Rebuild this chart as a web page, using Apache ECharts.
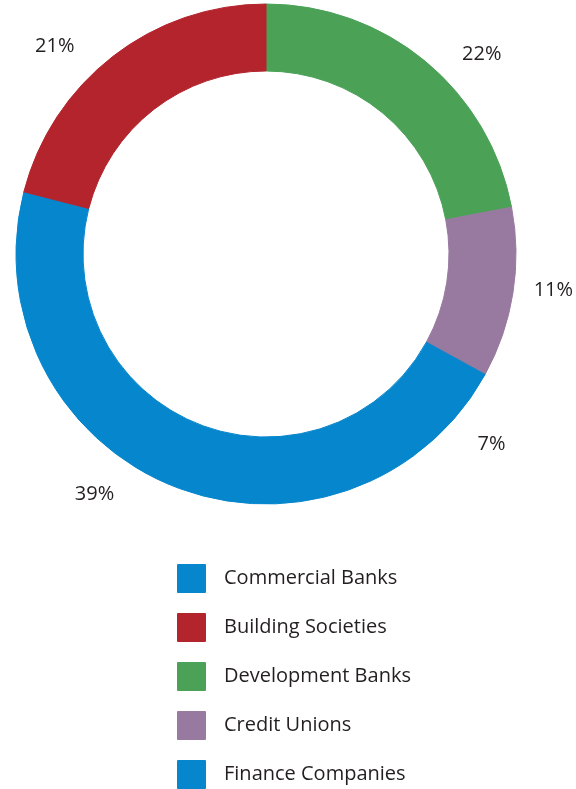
<!DOCTYPE html>
<html>
<head>
<meta charset="utf-8">
<script src="https://cdn.jsdelivr.net/npm/echarts@6/dist/echarts.min.js"></script>
<style>
  html, body { margin: 0; padding: 0; background: #ffffff; }
  #chart { width: 576px; height: 789px; }
</style>
</head>
<body>
<div id="chart"></div>
<script>
// Slices in clockwise order starting at 12 o'clock
var sliceNames = ['Development Banks', 'Credit Unions', 'Finance Companies', 'Commercial Banks', 'Building Societies'];
var sliceValues = [22, 11, 7, 39, 21];
var sliceColors = ['#4ba257', '#987aa0', '#0686cc', '#0686cc', '#b3242d'];

// Legend reading order
var legendOrder = ['Commercial Banks', 'Building Societies', 'Development Banks', 'Credit Unions', 'Finance Companies'];

// Small hand nudges for the percentage labels (pixels), by slice index
var labelNudge = [[7, 8], [-16, -6], [-8, 12], [17, 17], [-9, 6]];

var FONT = '"Open Sans", "Noto Sans", sans-serif';
var TEXT = '#231f20';

var pieData = sliceNames.map(function (n, i) {
  return {
    name: n,
    value: sliceValues[i],
    itemStyle: { color: sliceColors[i], borderColor: sliceColors[i], borderWidth: 1 }
  };
});

var chart = echarts.init(document.getElementById('chart'), null, { renderer: 'canvas' });
chart.setOption({
  backgroundColor: '#ffffff',
  animation: false,
  legend: {
    data: legendOrder,
    orient: 'vertical',
    left: 177,
    top: 564,
    height: 260,
    padding: 0,
    itemWidth: 27,
    itemHeight: 27,
    itemGap: 20,
    icon: 'rect',
    selectedMode: false,
    textStyle: {
      fontFamily: FONT,
      fontSize: 20,
      color: TEXT,
      padding: [0, 0, 0, 14]
    }
  },
  series: [{
    type: 'pie',
    center: [266, 254],
    radius: [183, 250],
    startAngle: 90,
    clockwise: true,
    avoidLabelOverlap: false,
    silent: true,
    data: pieData,
    label: {
      show: true,
      position: 'outside',
      formatter: '{c}%',
      fontFamily: FONT,
      fontSize: 20,
      color: TEXT
    },
    labelLine: { show: false, length: 20, length2: 12 },
    labelLayout: function (p) {
      var n = labelNudge[p.dataIndex] || [0, 0];
      return { dx: n[0], dy: n[1] };
    }
  }]
});
</script>
</body>
</html>
